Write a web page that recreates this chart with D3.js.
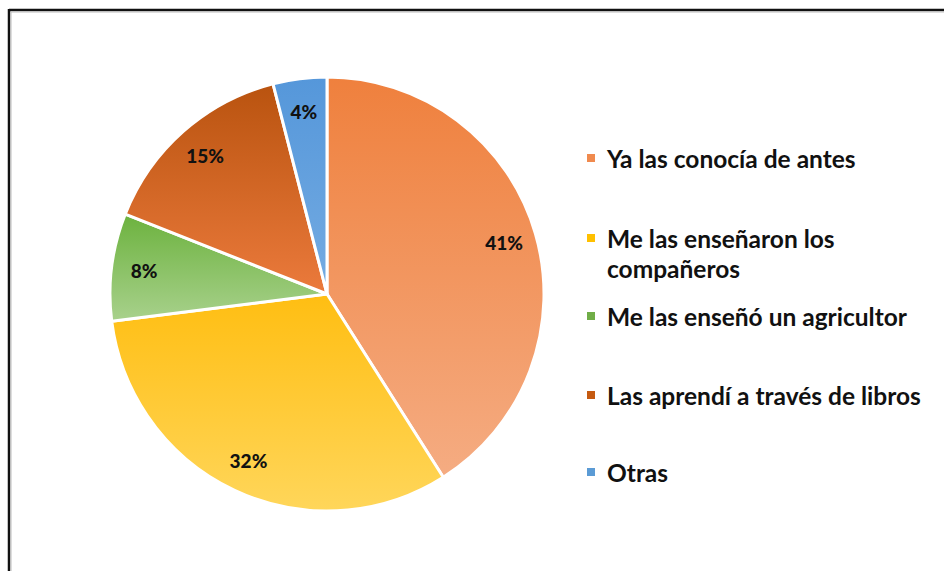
<!DOCTYPE html>
<html><head><meta charset="utf-8">
<script src="https://cdn.jsdelivr.net/npm/d3@7"></script>
<style>html,body{margin:0;padding:0;background:#fff;}svg{display:block;}</style>
</head><body>
<svg id="chart" width="944" height="571"></svg>
<script>
const categories = ["Ya las conocía de antes", "Me las enseñaron los compañeros", "Me las enseñó un agricultor", "Las aprendí a través de libros", "Otras"];
const legendLines = [["Ya las conocía de antes"], ["Me las enseñaron los", "compañeros"], ["Me las enseñó un agricultor"], ["Las aprendí a través de libros"], ["Otras"]];
const values = [41, 32, 8, 15, 4];
const colorsTop = ["#EF803D", "#FFBE12", "#6CB23E", "#B9530F", "#5597DA"];
const colorsBottom = ["#F5AC82", "#FFD65A", "#A8D18C", "#EB7A3C", "#74ABE2"];
const legendColors = ["#F08A4E", "#FFC000", "#70AD47", "#C55A11", "#5B9BD5"];

const svg = d3.select("#chart");
const W = 944, H = 571;
svg.append("rect").attr("width", W).attr("height", H).attr("fill", "#fff");
// frame
svg.append("line").attr("x1", 9).attr("x2", W).attr("y1", 10).attr("y2", 10).attr("stroke", "#111").attr("stroke-width", 2.5);
svg.append("line").attr("x1", 9).attr("x2", 9).attr("y1", 9).attr("y2", H).attr("stroke", "#111").attr("stroke-width", 2.5);
svg.append("line").attr("x1", 11).attr("x2", W).attr("y1", 12).attr("y2", 12).attr("stroke", "#bbb").attr("stroke-width", 1);
svg.append("line").attr("x1", 11).attr("x2", 11).attr("y1", 12).attr("y2", H).attr("stroke", "#bbb").attr("stroke-width", 1);

const defs = svg.append("defs");
values.forEach((v, i) => {
  const g = defs.append("linearGradient").attr("id", "g" + i).attr("x1", 0).attr("y1", 0).attr("x2", 0).attr("y2", 1);
  g.append("stop").attr("offset", "0%").attr("stop-color", colorsTop[i]);
  g.append("stop").attr("offset", "100%").attr("stop-color", colorsBottom[i]);
});

const cx = 327, cy = 294, R = 217;
const pie = d3.pie().sort(null).value(d => d);
const arcs = pie(values);
const arc = d3.arc().innerRadius(0).outerRadius(R);
const labelArc = d3.arc().innerRadius(R * 0.85).outerRadius(R * 0.85);

const gp = svg.append("g").attr("transform", `translate(${cx},${cy})`);
gp.selectAll("path.slice").data(arcs).enter().append("path")
  .attr("class", "slice")
  .attr("d", arc)
  .attr("fill", (d, i) => `url(#g${i})`)
  .attr("stroke", "#fff").attr("stroke-width", 3).attr("stroke-linejoin", "round");

gp.selectAll("text.lbl").data(arcs).enter().append("text")
  .attr("class", "lbl")
  .attr("transform", d => `translate(${labelArc.centroid(d)})`)
  .attr("text-anchor", "middle").attr("dominant-baseline", "central")
  .attr("font-family", "Lato, 'Open Sans', sans-serif").attr("font-weight", "900")
  .attr("font-size", 19).attr("fill", "#111")
  .text(d => d.data + "%");

// legend
const legY = [158, 238, 316, 395, 472];
const lg = svg.append("g");
const items = lg.selectAll("g.item").data(categories).enter().append("g").attr("class", "item")
  .attr("transform", (d, i) => `translate(587,${legY[i]})`);
items.append("rect").attr("x", 0).attr("y", -4).attr("width", 8).attr("height", 8)
  .attr("fill", (d, i) => legendColors[i]);
const texts = items.append("text")
  .attr("x", 20).attr("y", 0)
  .attr("font-family", "Lato, 'Open Sans', sans-serif").attr("font-weight", "bold")
  .attr("font-size", 19).attr("fill", "#111").attr("dominant-baseline", "central");
texts.each(function(d, i) {
  const t = d3.select(this);
  legendLines[i].forEach((ln, j) => {
    t.append("tspan").attr("x", 20).attr("y", j * 30).text(ln);
  });
});
// scale legend font to match reference width of longest line (~314px)
const ref = texts.filter((d, i) => i === 3).node();
const w = ref.getComputedTextLength();
const fs = 19 * 314 / w;
texts.attr("font-size", fs);
</script>
</body></html>
